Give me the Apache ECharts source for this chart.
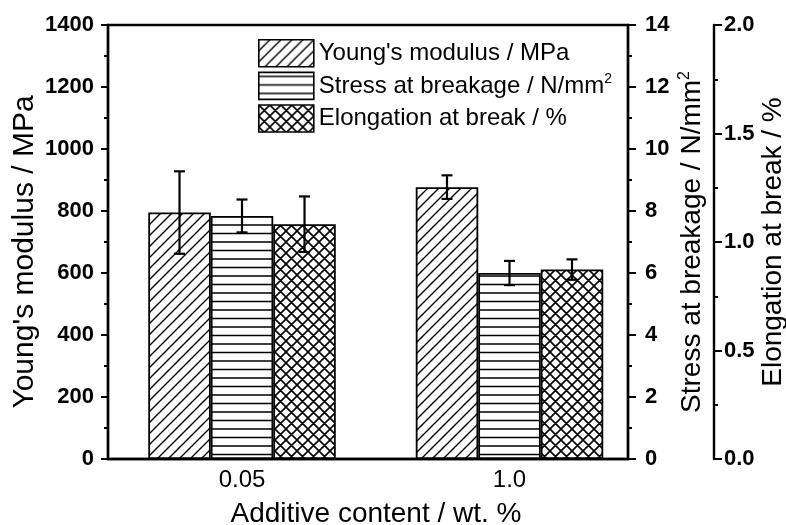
<!DOCTYPE html>
<html>
<head>
<meta charset="utf-8">
<script src="https://cdn.jsdelivr.net/npm/echarts@6/dist/echarts.min.js"></script>
<style>
  html, body { margin: 0; padding: 0; background: #fff; }
  #chart { width: 786px; height: 525px; }
</style>
</head>
<body>
<div id="chart"></div>
<script>
// ---- data ----
const categories = ['0.05', '1.0'];
const youngs = [795, 877];
const youngsErr = [133, 38];
const stress = [7.84, 6.0];
const stressErr = [0.53, 0.39];
const elong = [1.082, 0.873];
const elongErr = [0.128, 0.047];
const seriesNames = ["Young's modulus / MPa", 'Stress at breakage / N/mm2', 'Elongation at break / %'];
const youngsTicks = { min: 0, max: 1400, interval: 200 };
const stressTicks = { min: 0, max: 14, interval: 2 };
const elongTicks = { min: 0, max: 2, interval: 0.5 };

// ---- patterns ----
function tile(w, h, lw, draw) {
  const c = document.createElement('canvas');
  c.width = w; c.height = h;
  const ctx = c.getContext('2d');
  ctx.fillStyle = '#fff';
  ctx.fillRect(0, 0, w, h);
  ctx.strokeStyle = '#000';
  ctx.lineWidth = lw;
  ctx.beginPath();
  draw(ctx, w, h);
  ctx.stroke();
  return c;
}
const diagTile = tile(11, 11, 1.4, (ctx, s) => {
  ctx.moveTo(-1, s + 1); ctx.lineTo(s + 1, -1);
  ctx.moveTo(-2, 2); ctx.lineTo(2, -2);
  ctx.moveTo(s - 2, s + 2); ctx.lineTo(s + 2, s - 2);
});
const horizTile = tile(17, 17, 1.6, (ctx, w) => {
  ctx.moveTo(0, 4); ctx.lineTo(w, 4);
  ctx.moveTo(0, 12.5); ctx.lineTo(w, 12.5);
});
const crossTile = tile(11, 11, 1.6, (ctx, s) => {
  ctx.moveTo(-1, s + 1); ctx.lineTo(s + 1, -1);
  ctx.moveTo(-2, 2); ctx.lineTo(2, -2);
  ctx.moveTo(s - 2, s + 2); ctx.lineTo(s + 2, s - 2);
  ctx.moveTo(-1, -1); ctx.lineTo(s + 1, s + 1);
  ctx.moveTo(-2, s - 2); ctx.lineTo(2, s + 2);
  ctx.moveTo(s - 2, -2); ctx.lineTo(s + 2, 2);
});
const patterns = [diagTile, horizTile, crossTile];

const FONT = "'Liberation Sans', Arial, sans-serif";
const BAR_W = 62.5;
const valuesList = [youngs, stress, elong];
const errList = [youngsErr, stressErr, elongErr];

function yAxisBase(t, position, opts) {
  return Object.assign({
    type: 'value', position: position,
    min: t.min, max: t.max, interval: t.interval,
    axisLine: { show: true, onZero: false, lineStyle: { color: '#000', width: 2.4 } },
    axisTick: { show: true, inside: false, length: 7, lineStyle: { color: '#000', width: 2 } },
    minorTick: { show: true, splitNumber: 2, length: 4, lineStyle: { color: '#000', width: 2 } },
    splitLine: { show: false },
    minorSplitLine: { show: false },
    nameLocation: 'middle', nameRotate: 90, nameMoveOverlap: false,
    nameTextStyle: { color: '#000', fontFamily: FONT, fontSize: 28 }
  }, opts);
}

const yAxes = [
  yAxisBase(youngsTicks, 'left', {
    name: "Young's modulus / MPa", nameGap: 68,
    nameTextStyle: { color: '#000', fontFamily: FONT, fontSize: 30, padding: [0, 20, 0, 0] },
    axisLabel: { color: '#000', fontFamily: FONT, fontWeight: 'bold', fontSize: 22, margin: 14,
      formatter: v => String(v) }
  }),
  yAxisBase(stressTicks, 'right', {
    name: 'Stress at breakage / N/mm{sup|2}', nameGap: 49,
    axisTick: { show: true, inside: false, length: 8, lineStyle: { color: '#000', width: 2 } },
    nameTextStyle: { color: '#000', fontFamily: FONT, fontSize: 28, lineHeight: 30,
      rich: { sup: { fontFamily: FONT, fontSize: 16, verticalAlign: 'top', lineHeight: 30, color: '#000' } } },
    axisLabel: { color: '#000', fontFamily: FONT, fontWeight: 'bold', fontSize: 22, margin: 17,
      formatter: v => String(v) }
  }),
  yAxisBase(elongTicks, 'right', {
    offset: 86,
    name: 'Elongation at break / %', nameGap: 45,
    axisTick: { show: true, inside: false, length: 8, lineStyle: { color: '#000', width: 2 } },
    axisLabel: { color: '#000', fontFamily: FONT, fontWeight: 'bold', fontSize: 22, margin: 10,
      formatter: v => v.toFixed(1) }
  })
];

const barSeries = seriesNames.map((name, k) => ({
  name: name,
  type: 'bar',
  xAxisIndex: 0,
  yAxisIndex: k,
  barWidth: BAR_W,
  barGap: '0%',
  itemStyle: { color: { image: patterns[k], repeat: 'repeat' }, borderColor: '#000', borderWidth: 1.8 },
  data: categories.map((c, i) => [i, valuesList[k][i]]),
  z: 2
}));

const errSeries = seriesNames.map((name, k) => ({
  type: 'custom',
  xAxisIndex: 0,
  yAxisIndex: k,
  z: 5,
  silent: true,
  data: categories.map((c, i) => [i, valuesList[k][i], errList[k][i]]),
  renderItem: (params, api) => {
    const x = api.value(0), y = api.value(1), e = api.value(2);
    const top = api.coord([x, y + e]);
    const bot = api.coord([x, y - e]);
    const cx = top[0] + (k - 1) * BAR_W;
    const cap = 5.5;
    const st = { stroke: '#000', lineWidth: 2.2, fill: null };
    return {
      type: 'group',
      children: [
        { type: 'line', shape: { x1: cx, y1: top[1], x2: cx, y2: bot[1] }, style: st },
        { type: 'line', shape: { x1: cx - cap, y1: top[1], x2: cx + cap, y2: top[1] }, style: st },
        { type: 'line', shape: { x1: cx - cap, y1: bot[1], x2: cx + cap, y2: bot[1] }, style: st }
      ]
    };
  }
}));

const chart = echarts.init(document.getElementById('chart'), null, { renderer: 'canvas' });
chart.setOption({
  animation: false,
  backgroundColor: '#fff',
  textStyle: { fontFamily: FONT },
  grid: { left: 108, right: 158, top: 25, bottom: 66, outerBoundsMode: 'none', containLabel: false,
    show: true, borderColor: '#000', borderWidth: 2.4, backgroundColor: 'transparent' },
  legend: {
    data: seriesNames,
    orient: 'vertical',
    left: 253, top: 34,
    itemWidth: 55, itemHeight: 27, itemGap: 4,
    icon: 'rect',
    itemStyle: { borderColor: '#000', borderWidth: 1.6 },
    formatter: n => n.replace('N/mm2', 'N/mm{sup|2}'),
    textStyle: { color: '#000', fontFamily: FONT, fontSize: 24, lineHeight: 27,
      rich: { sup: { fontFamily: FONT, fontSize: 14, verticalAlign: 'top', lineHeight: 27, color: '#000' } } }
  },
  xAxis: {
    type: 'value',
    min: -0.501, max: 1.443,
    axisLine: { show: true, onZero: false, lineStyle: { color: '#000', width: 2.4 } },
    axisTick: { show: false },
    splitLine: { show: false },
    axisLabel: { customValues: categories.map((c, i) => i), formatter: v => categories[Math.round(v)],
      color: '#000', fontFamily: FONT, fontSize: 24, margin: 9 },
    name: 'Additive content / wt. %',
    nameLocation: 'middle', nameGap: 41, nameMoveOverlap: false,
    nameTextStyle: { color: '#000', fontFamily: FONT, fontSize: 28, padding: [0, 0, 0, 16] }
  },
  yAxis: yAxes,
  series: barSeries.concat(errSeries)
});
</script>
</body>
</html>
